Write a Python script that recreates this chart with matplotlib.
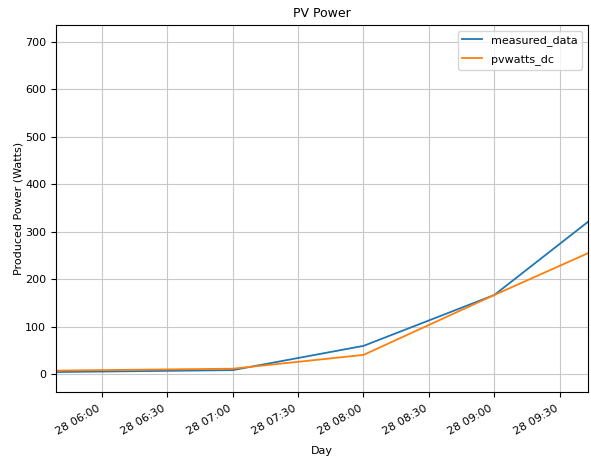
import matplotlib
matplotlib.use("Agg")
import matplotlib.pyplot as plt
import matplotlib.dates as mdates
import pandas as pd

# readings
times = pd.to_datetime(["2019-06-28 05:39", "2019-06-28 07:00", "2019-06-28 08:00",
                        "2019-06-28 09:00", "2019-06-28 09:43"])
measured_data = [5, 9, 60, 167, 321]
pvwatts_dc = [8, 12, 41, 167, 255]

plt.rcParams["font.size"] = 8

fig = plt.figure(figsize=(5.91, 4.62), dpi=100)
ax = fig.add_axes([0.0948, 0.1515, 0.9002, 0.7945])

ax.plot(times, measured_data, label="measured_data", lw=1.3)
ax.plot(times, pvwatts_dc, label="pvwatts_dc", lw=1.3)

ax.set_xlim(times[0], times[-1])
ax.set_ylim(-37, 735)
ax.xaxis.set_major_locator(mdates.MinuteLocator(byminute=[0, 30]))
ax.xaxis.set_major_formatter(mdates.DateFormatter("%d %H:%M"))
ax.tick_params(axis="x", pad=5)
for lbl in ax.get_xticklabels():
    lbl.set_rotation(30)
    lbl.set_ha("right")

ax.set_title("PV Power", fontsize=9)
ax.set_xlabel("Day", labelpad=6.5)
ax.set_ylabel("Produced Power (Watts)", labelpad=1.5)
ax.grid(True, color="#c8c8c8")
ax.legend(loc="upper right", fontsize=8, labelspacing=0.75, handlelength=1.8)

fig.savefig("out.png", dpi=100)
